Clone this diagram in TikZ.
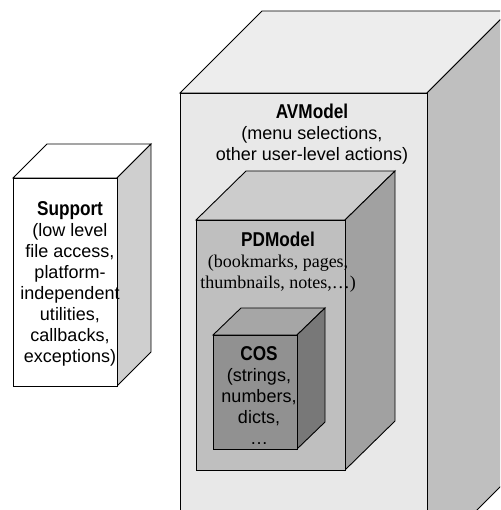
\documentclass[tikz,border=0pt]{standalone}
\usepackage{fontspec}
\setmainfont{Liberation Sans}
\newfontfamily\bookfont{Liberation Serif}
\newfontfamily\headfont[FakeStretch=0.86]{Liberation Sans}

% shades for the nested blocks
\definecolor{suptop}{gray}{1.0}
\definecolor{supfront}{gray}{1.0}
\definecolor{supside}{gray}{0.81}
\definecolor{avtop}{gray}{0.93}
\definecolor{avfront}{gray}{0.91}
\definecolor{avside}{gray}{0.75}
\definecolor{pdtop}{gray}{0.80}
\definecolor{pdfront}{gray}{0.75}
\definecolor{pdside}{gray}{0.63}
\definecolor{costop}{gray}{0.65}
\definecolor{cosfront}{gray}{0.57}
\definecolor{cosside}{gray}{0.47}

\newcommand{\blockhead}[1]{{\headfont\bfseries\fontsize{20}{21}\selectfont #1}}

\tikzset{
  face/.style={draw=black, line width=0.9pt, line join=miter},
  blocktext/.style={align=center, inner sep=0pt, font=\fontsize{18}{21}\selectfont}
}

\begin{document}
\begin{tikzpicture}[x=1pt, y=-1pt]
    \useasboundingbox (0,0) rectangle (500,510);
    \clip (0,0) rectangle (500,510);

    % Support block
    \coordinate (sup1) at (13,178);
    \coordinate (sup2) at (117,178);
    \coordinate (sup3) at (117,386);
    \draw[face, fill=suptop] (sup1) -- ++(34,-34) -- ++(104,0) -- (sup2) -- cycle;
    \draw[face, fill=supside] (sup2) -- ++(34,-34) -- ++(0,208) -- (sup3) -- cycle;
    \draw[face, fill=supfront] (sup1) rectangle (sup3);
    \node[blocktext] (suptext) at (70,284) {\blockhead{Support}\\ (low level\\ file access,\\ platform-\\ independent\\ utilities,\\ callbacks,\\ exceptions)};

    % AVModel block
    \coordinate (av1) at (180,93);
    \coordinate (av2) at (427,93);
    \coordinate (av3) at (427,560);
    \draw[face, fill=avtop] (av1) -- ++(82,-82) -- ++(247,0) -- (av2) -- cycle;
    \draw[face, fill=avside] (av2) -- ++(82,-82) -- ++(0,467) -- (av3) -- cycle;
    \draw[face, fill=avfront] (av1) rectangle (av3);
    \node[blocktext] (avtext) at (312,134) {\blockhead{AVModel}\\ (menu selections,\\ other user-level actions)};

    % PDModel block
    \coordinate (pd1) at (196,220);
    \coordinate (pd2) at (345,220);
    \coordinate (pd3) at (345,470);
    \draw[face, fill=pdtop] (pd1) -- ++(50,-49) -- ++(149,0) -- (pd2) -- cycle;
    \draw[face, fill=pdside] (pd2) -- ++(50,-49) -- ++(0,250) -- (pd3) -- cycle;
    \draw[face, fill=pdfront] (pd1) rectangle (pd3);
    \node[blocktext] (pdtext) at (278,262) {\blockhead{PDModel}\\ {\bookfont (bookmarks, pages,}\\ {\bookfont thumbnails, notes,\dots)}};

    % COS block
    \coordinate (cos1) at (213,335);
    \coordinate (cos2) at (297,335);
    \coordinate (cos3) at (297,449);
    \draw[face, fill=costop] (cos1) -- ++(28,-27) -- ++(84,0) -- (cos2) -- cycle;
    \draw[face, fill=cosside] (cos2) -- ++(28,-27) -- ++(0,114) -- (cos3) -- cycle;
    \draw[face, fill=cosfront] (cos1) rectangle (cos3);
    \node[blocktext] (costext) at (259,396) {\blockhead{COS}\\ (strings,\\ numbers,\\ dicts,\\ \dots};
\end{tikzpicture}
\end{document}
